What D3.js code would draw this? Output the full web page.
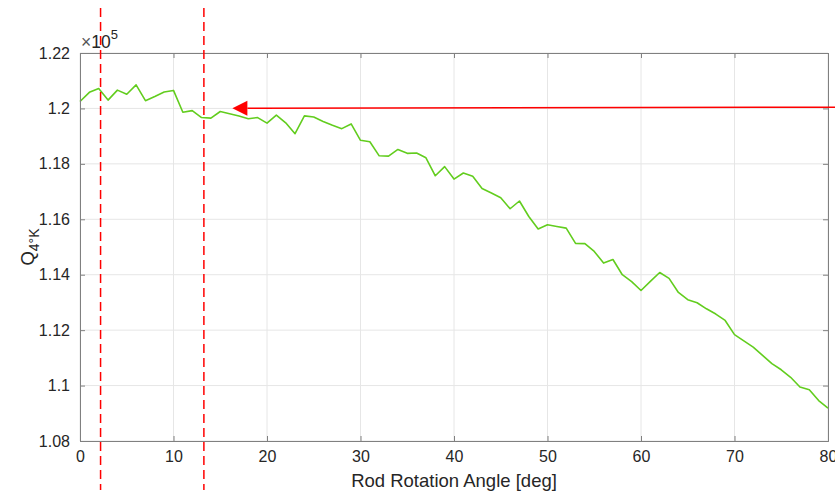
<!doctype html>
<html>
<head>
<meta charset="UTF-8">
<script src="https://d3js.org/d3.v7.min.js"></script>
<style>
  body { margin: 0; background: #fff; }
  text { font-family: "Liberation Sans", Arial, sans-serif; fill: #262626; }
</style>
</head>
<body>
<script>
// Data: Q (x1e5) against rod rotation angle, one sample per degree
var angles = d3.range(0, 81);
var qValues = [
  1.2025, 1.2058, 1.2072, 1.2030, 1.2066, 1.2051, 1.2085, 1.2028, 1.2043, 1.2059,
  1.2065, 1.1986, 1.1992, 1.1967, 1.1965, 1.1989, 1.1981, 1.1973, 1.1963, 1.1967,
  1.1947, 1.1976, 1.1948, 1.1909, 1.1973, 1.1969, 1.1953, 1.1939, 1.1927, 1.1944,
  1.1885, 1.1880, 1.1829, 1.1828, 1.1852, 1.1838, 1.1839, 1.1822, 1.1757, 1.1790,
  1.1745, 1.1767, 1.1755, 1.1711, 1.1695, 1.1678, 1.1638, 1.1666, 1.1610, 1.1565,
  1.1580, 1.1574, 1.1568, 1.1513, 1.1512, 1.1484, 1.1442, 1.1455, 1.1400, 1.1375,
  1.1343, 1.1376, 1.1408, 1.1387, 1.1336, 1.1310, 1.1299, 1.1277, 1.1258, 1.1235,
  1.1184, 1.1161, 1.1139, 1.1109, 1.1079, 1.1057, 1.1030, 1.0995, 1.0985, 1.0946,
  1.0919
];
var xTicks = [0, 10, 20, 30, 40, 50, 60, 70, 80];
var yTicks = [1.08, 1.10, 1.12, 1.14, 1.16, 1.18, 1.20, 1.22];
var yTickLabels = ["1.08", "1.1", "1.12", "1.14", "1.16", "1.18", "1.2", "1.22"];
var markerAngles = [2.2, 13.25];           // red dashed lines
var arrowFrom = [90, 1.2005], arrowTo = [16.3, 1.2001];

var W = 835, H = 494;
var margin = {top: 53, right: 7, bottom: 53, left: 80},
    width = W - margin.left - margin.right,
    height = H - margin.top - margin.bottom;

var x = d3.scaleLinear().domain([0, 80]).range([0, width]);
var y = d3.scaleLinear().domain([1.08, 1.22]).range([height, 0]);

var svg = d3.select("body").append("svg")
    .attr("width", W).attr("height", H);
var g = svg.append("g")
    .attr("transform", "translate(" + margin.left + "," + margin.top + ")");

// grid
g.selectAll(".gx").data(xTicks).enter().append("line")
  .attr("x1", d => x(d)).attr("x2", d => x(d))
  .attr("y1", 0).attr("y2", height)
  .attr("stroke", "#e6e6e6").attr("stroke-width", 1);
g.selectAll(".gy").data(yTicks).enter().append("line")
  .attr("x1", 0).attr("x2", width)
  .attr("y1", d => y(d)).attr("y2", d => y(d))
  .attr("stroke", "#e6e6e6").attr("stroke-width", 1);

// the curve
var line = d3.line()
  .x((d, i) => x(angles[i]))
  .y(d => y(d));
g.append("path").datum(qValues)
  .attr("d", line)
  .attr("fill", "none")
  .attr("stroke", "#62cd1e")
  .attr("stroke-width", 1.6)
  .attr("stroke-linejoin", "round");

// axes box with inward ticks
var axisCol = "#808080";
var axBottom = g.append("g").attr("transform", "translate(0," + height + ")")
  .call(d3.axisBottom(x).tickValues(xTicks).tickSize(-5).tickPadding(10));
var axTop = g.append("g")
  .call(d3.axisTop(x).tickValues(xTicks).tickSize(-5).tickFormat(""));
var axLeft = g.append("g")
  .call(d3.axisLeft(y).tickValues(yTicks).tickSize(-5).tickPadding(10)
    .tickFormat((d, i) => yTickLabels[i]));
var axRight = g.append("g").attr("transform", "translate(" + width + ",0)")
  .call(d3.axisRight(y).tickValues(yTicks).tickSize(-5).tickFormat(""));
[axBottom, axTop, axLeft, axRight].forEach(function(a) {
  a.selectAll("path").attr("stroke", axisCol).attr("stroke-width", 1);
  a.selectAll("line").attr("stroke", axisCol);
  a.selectAll("text").style("font-size", "16px").attr("fill", "#262626")
    .style("font-family", "'Liberation Sans', Arial, sans-serif");
});

// exponent label
var expo = svg.append("text")
  .attr("x", margin.left + 1).attr("y", margin.top - 5)
  .style("font-size", "17.5px");
expo.append("tspan").attr("fill", "#555").text("\u00d7");
expo.append("tspan").text("10");
expo.append("tspan").attr("dy", -9).style("font-size", "13px").text("5");

// axis labels
svg.append("text")
  .attr("x", margin.left + width / 2).attr("y", H - 7)
  .attr("text-anchor", "middle")
  .style("font-size", "18.5px")
  .text("Rod Rotation Angle [deg]");
var yl = svg.append("text")
  .attr("transform", "translate(34," + (margin.top + height / 2) + ") rotate(-90)")
  .attr("text-anchor", "middle")
  .style("font-size", "18.5px");
yl.append("tspan").text("Q");
yl.append("tspan").attr("dy", 5).style("font-size", "14px").text("4\u00b0K");

// red dashed markers (run past the axes, full figure height)
svg.selectAll(".mk").data(markerAngles).enter().append("line")
  .attr("x1", d => margin.left + x(d)).attr("x2", d => margin.left + x(d))
  .attr("y1", 8).attr("y2", 490)
  .attr("stroke", "#ff0000").attr("stroke-width", 1.5)
  .attr("stroke-dasharray", "9,5");

// red arrow
var ax0 = margin.left + x(arrowFrom[0]), ay0 = margin.top + y(arrowFrom[1]);
var ax1 = margin.left + x(arrowTo[0]), ay1 = margin.top + y(arrowTo[1]);
var headLen = 15, headHalf = 7.5;
svg.append("line")
  .attr("x1", ax0).attr("y1", ay0)
  .attr("x2", ax1 + headLen).attr("y2", ay1)
  .attr("stroke", "#ff0000").attr("stroke-width", 1.5);
svg.append("path")
  .attr("d", "M" + ax1 + "," + ay1 +
             "L" + (ax1 + headLen) + "," + (ay1 - headHalf) +
             "L" + (ax1 + headLen) + "," + (ay1 + headHalf) + "Z")
  .attr("fill", "#ff0000");
</script>
</body>
</html>
